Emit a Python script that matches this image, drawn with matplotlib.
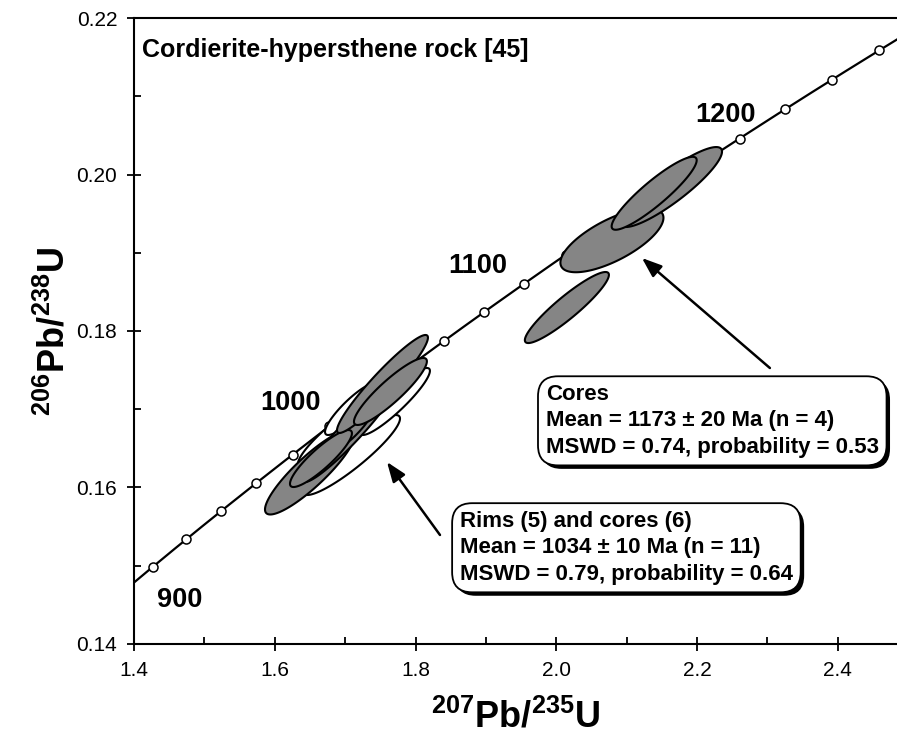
import numpy as np
import matplotlib.pyplot as plt
from matplotlib import patheffects as pe

plt.rcParams['font.family'] = ['Liberation Sans', 'DejaVu Sans']
plt.rcParams['mathtext.fontset'] = 'custom'
plt.rcParams['mathtext.rm'] = 'Liberation Sans'
plt.rcParams['mathtext.bf'] = 'Liberation Sans:bold'

# decay constants (1/yr)
LAMBDA_238 = 1.55125e-10
LAMBDA_235 = 9.8485e-10

# concordia age marks (Ma) and labelled ages
mark_ages = [900, 920, 940, 960, 980, 1000, 1020, 1040, 1060, 1080, 1100,
             1120, 1140, 1160, 1180, 1200, 1220, 1240, 1260]
label_ages = ['900', '1000', '1100', '1200']
label_x = [1.465, 1.622, 1.889, 2.240]
label_y = [0.1456, 0.1708, 0.1883, 0.2076]

# analyses: 207Pb/235U, 206Pb/238U, 2-sigma half widths, error correlation
ell_x = [1.709, 1.6855, 1.709, 1.7707, 1.735,
         1.650, 1.7068, 1.7139, 1.6656, 1.753, 1.7643,
         2.015, 2.079, 2.163, 2.139]
ell_y = [0.16415, 0.1667, 0.17003, 0.17099, 0.1705,
         0.16198, 0.16709, 0.1680, 0.1637, 0.17323, 0.17227,
         0.1830, 0.1916, 0.1984, 0.1976]
ell_sx = [0.0689, 0.0526, 0.0376, 0.0497, 0.045,
          0.0639, 0.0668, 0.030, 0.0440, 0.0646, 0.0518,
          0.0597, 0.0732, 0.0724, 0.0604]
ell_sy = [0.00511, 0.00409, 0.00332, 0.00428, 0.0045,
          0.00543, 0.00639, 0.0030, 0.00364, 0.00626, 0.00428,
          0.00454, 0.00409, 0.00511, 0.00466]
ell_rho = [0.911, 0.90, 0.882, 0.915, 0.93,
           0.882, 0.95, 0.88, 0.886, 0.9456, 0.90,
           0.918, 0.70, 0.886, 0.906]
ell_kind = ['rim', 'rim', 'rim', 'rim', 'rim',
            'core', 'core', 'core', 'core', 'core', 'core',
            'core', 'core', 'core', 'core']

title = 'Cordierite-hypersthene rock [45]'
cores_text = 'Cores\nMean = 1173 \u00b1 20 Ma (n = 4)\nMSWD = 0.74, probability = 0.53'
rims_text = 'Rims (5) and cores (6)\nMean = 1034 \u00b1 10 Ma (n = 11)\nMSWD = 0.79, probability = 0.64'

fig = plt.figure(figsize=(8.97, 7.39), dpi=100)
ax = fig.add_axes([0.1494, 0.1286, 0.8506, 0.8470])

# concordia curve
t = np.linspace(850e6, 1300e6, 400)
ax.plot(np.exp(LAMBDA_235 * t) - 1, np.exp(LAMBDA_238 * t) - 1, color='black', lw=1.6, zorder=2)
ta = np.array(mark_ages) * 1e6
ax.plot(np.exp(LAMBDA_235 * ta) - 1, np.exp(LAMBDA_238 * ta) - 1, 'o', ms=6.5,
        mfc='white', mec='black', mew=1.1, zorder=3)

# error ellipses
th = np.linspace(0, 2 * np.pi, 200)
for x, y, sx, sy, r, k in zip(ell_x, ell_y, ell_sx, ell_sy, ell_rho, ell_kind):
    ex = x + sx * np.cos(th)
    ey = y + sy * (r * np.cos(th) + np.sqrt(1 - r ** 2) * np.sin(th))
    fc = '#858585' if k == 'core' else 'white'
    ax.fill(ex, ey, facecolor=fc, edgecolor='black', lw=1.5, zorder=4)

for s, x, y in zip(label_ages, label_x, label_y):
    ax.text(x, y, s, fontsize=19.5, fontweight='bold', ha='center', va='center', zorder=6)

ax.text(1.4114, 0.2150, title, fontsize=18, fontweight='bold', ha='left', va='baseline')

# arrows
ax.annotate('', xy=(2.1216, 0.18933), xytext=(2.3034, 0.17527),
            arrowprops=dict(arrowstyle='-|>,head_length=1.2,head_width=0.45', color='black', lw=1.8,
                            shrinkA=0, shrinkB=0), zorder=7)
ax.annotate('', xy=(1.7594, 0.16326), xytext=(1.8347, 0.15393),
            arrowprops=dict(arrowstyle='-|>,head_length=1.2,head_width=0.45', color='black', lw=1.8,
                            shrinkA=0, shrinkB=0), zorder=7)

# text boxes with drop shadow
for txt, x, y in [(cores_text, 1.985, 0.17322), (rims_text, 1.863, 0.1570)]:
    tb = ax.text(x, y, txt, fontsize=16, fontweight='bold', ha='left', va='top', linespacing=1.33,
                 zorder=8, bbox=dict(boxstyle='round,pad=0.35,rounding_size=0.9', fc='white',
                                     ec='black', lw=1.3))
    tb.get_bbox_patch().set_path_effects([
        pe.SimplePatchShadow(offset=(2.5, -2.5), shadow_rgbFace='black', alpha=1.0), pe.Normal()])

ax.set_xlim(1.4, 2.484)
ax.set_ylim(0.14, 0.22)
ax.set_xticks([1.4, 1.6, 1.8, 2.0, 2.2, 2.4])
ax.set_xticks(np.arange(1.5, 2.45, 0.2), minor=True)
ax.set_yticks([0.14, 0.16, 0.18, 0.20, 0.22])
ax.set_yticks([0.15, 0.17, 0.19, 0.21], minor=True)
ax.set_xticklabels(['1.4', '1.6', '1.8', '2.0', '2.2', '2.4'])
ax.set_yticklabels(['0.14', '0.16', '0.18', '0.20', '0.22'])
ax.tick_params(which='major', direction='inout', length=10, width=1.3, labelsize=15, pad=7)
ax.tick_params(which='minor', direction='in', length=5, width=1.3)
ax.spines['right'].set_visible(False)
for s in ['left', 'bottom', 'top']:
    ax.spines[s].set_linewidth(1.5)

ax.set_xlabel(r'$^{\mathbf{207}}\mathbf{Pb/}^{\mathbf{235}}\mathbf{U}$', fontsize=26, labelpad=14)
ax.set_ylabel(r'$^{\mathbf{206}}\mathbf{Pb/}^{\mathbf{238}}\mathbf{U}$', fontsize=26, labelpad=3)

fig.savefig('out.png', dpi=100)
